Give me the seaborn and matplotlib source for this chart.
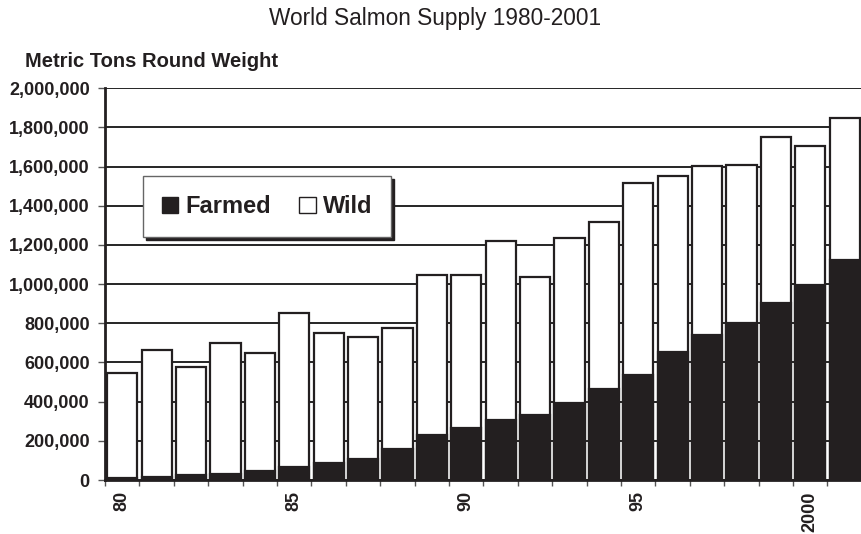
import numpy as np
import pandas as pd
import matplotlib
matplotlib.use('Agg')
import matplotlib.pyplot as plt
from matplotlib.patches import Patch
import seaborn as sns

# data (metric tons round weight)
years = [str(y) for y in range(1980, 2002)]
total = [546000, 663000, 577000, 699000, 648000, 852000, 750000, 730000, 776000,
         1045000, 1045000, 1219000, 1036000, 1235000, 1316000, 1515000, 1551000,
         1602000, 1607000, 1750000, 1704000, 1847000]
farmed = [12000, 18000, 24000, 33000, 46000, 66000, 87000, 107000, 158000,
          230000, 265000, 306000, 332000, 393000, 464000, 536000, 653000,
          740000, 801000, 905000, 995000, 1122000]
label_years = ['1980', '1985', '1990', '1995', '2000']
x_labels = ['80', '85', '90', '95', '2000']
y_ticks = [0, 200000, 400000, 600000, 800000, 1000000, 1200000, 1400000,
           1600000, 1800000, 2000000]
y_labels = ['0', '200,000', '400,000', '600,000', '800,000', '1,000,000',
            '1,200,000', '1,400,000', '1,600,000', '1,800,000', '2,000,000']

df = pd.DataFrame({'year': years, 'total': total, 'farmed': farmed})

sns.set_theme(style='white')
plt.rcParams['font.family'] = ['Liberation Sans', 'DejaVu Sans']

dark = '#231f20'
fig = plt.figure(figsize=(8.61, 5.34), dpi=100)
ax = fig.add_axes([0.122, 0.101, 0.879, 0.734])

sns.barplot(data=df, x='year', y='total', color='white', edgecolor=dark,
            linewidth=1.6, width=0.88, saturation=1, ax=ax, zorder=2)
sns.barplot(data=df, x='year', y='farmed', color=dark, edgecolor=dark,
            linewidth=1.6, width=0.88, saturation=1, ax=ax, zorder=3)

ax.set_ylim(0, 2000000)
ax.set_xlim(-0.5, len(years) - 0.5)
ax.set_axisbelow(True)
ax.yaxis.grid(True, color='black', linewidth=1.2)
ax.xaxis.grid(False)

ax.set_yticks(y_ticks)
ax.set_yticklabels(y_labels, fontsize=13, fontweight='bold')
ax.set_xticks([years.index(y) for y in label_years])
ax.set_xticklabels(x_labels, rotation=90, fontsize=13, fontweight='bold')
ax.set_xticks(np.arange(-0.5, len(years), 1), minor=True)
ax.tick_params(axis='x', which='major', length=0, pad=8)
ax.tick_params(axis='x', which='minor', length=4, width=1, color='#555555',
               direction='out', bottom=True)
ax.tick_params(axis='y', length=5, width=1, color='#555555', direction='out',
               left=True, pad=6, labelcolor=dark)
ax.tick_params(axis='x', labelcolor=dark)

for s in ['top', 'right']:
    ax.spines[s].set_visible(False)
ax.spines['left'].set_linewidth(2)
ax.spines['left'].set_color(dark)
ax.spines['bottom'].set_linewidth(2)
ax.spines['bottom'].set_color(dark)
ax.set_xlabel('')
ax.set_ylabel('')

handles = [Patch(facecolor=dark, edgecolor=dark, label='Farmed'),
           Patch(facecolor='white', edgecolor=dark, label='Wild')]
leg = ax.legend(handles=handles, loc='upper left', bbox_to_anchor=(0.05, 0.775),
                ncol=2, frameon=True, fancybox=False, shadow={'color': dark, 'alpha': 1},
                prop={'size': 17, 'weight': 'bold'}, handlelength=0.7,
                handleheight=0.7, handletextpad=0.3, columnspacing=1.2,
                borderpad=0.8, borderaxespad=0)
leg.get_frame().set_edgecolor('#666666')
leg.get_frame().set_linewidth(1)
for t in leg.get_texts():
    t.set_color(dark)

fig.text(0.505, 0.966, 'World Salmon Supply 1980-2001', ha='center', va='center',
         fontsize=16.3, color=dark)
fig.text(0.029, 0.884, 'Metric Tons Round Weight', ha='left', va='center',
         fontsize=14.5, fontweight='bold', color=dark)

fig.savefig('out.png', dpi=100)
